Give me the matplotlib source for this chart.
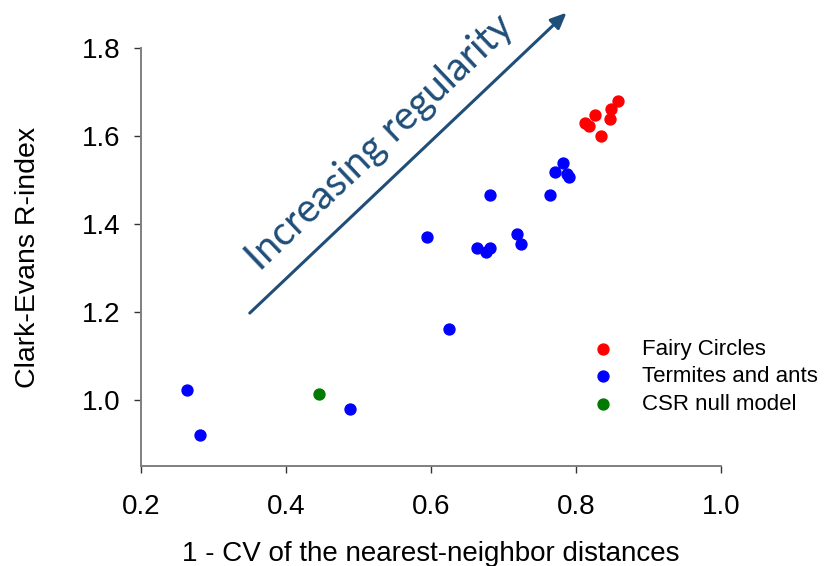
import matplotlib
matplotlib.use("Agg")
import matplotlib.pyplot as plt

# values
fairy_x = [0.812, 0.818, 0.826, 0.834, 0.847, 0.848, 0.858]
fairy_y = [1.630, 1.623, 1.648, 1.601, 1.639, 1.661, 1.680]

termite_x = [0.263, 0.281, 0.488, 0.594, 0.625, 0.663, 0.676, 0.682, 0.682,
             0.718, 0.724, 0.764, 0.771, 0.782, 0.787, 0.790]
termite_y = [1.023, 0.921, 0.981, 1.372, 1.162, 1.345, 1.336, 1.347, 1.467,
             1.377, 1.355, 1.466, 1.518, 1.539, 1.515, 1.508]

csr_x = [0.445]
csr_y = [1.014]

x_ticks = [0.2, 0.4, 0.6, 0.8, 1.0]
y_ticks = [1.0, 1.2, 1.4, 1.6, 1.8]

plt.rcParams['font.family'] = ['Liberation Sans', 'DejaVu Sans']

fig = plt.figure(figsize=(8.27, 5.66), dpi=100)
ax = fig.add_axes([0.1705, 0.1772, 0.7013, 0.7375])

ax.scatter(fairy_x, fairy_y, s=62, color='#ff0000', label='Fairy Circles', zorder=3)
ax.scatter(termite_x, termite_y, s=62, color='#0000ff', label='Termites and ants', zorder=3)
ax.scatter(csr_x, csr_y, s=62, color='#007a00', label='CSR null model', zorder=3)

ax.set_xlim(0.2, 1.0)
ax.set_ylim(0.851, 1.8)
ax.set_xticks(x_ticks)
ax.set_xticklabels(['%.1f' % v for v in x_ticks])
ax.set_yticks(y_ticks)
ax.set_yticklabels(['%.1f' % v for v in y_ticks])

for side in ['top', 'right']:
    ax.spines[side].set_visible(False)
for side in ['left', 'bottom']:
    ax.spines[side].set_color('#7f7f7f')
    ax.spines[side].set_linewidth(1.4)

ax.tick_params(axis='both', direction='out', length=5, width=1, color='#333333',
               labelsize=20)
ax.tick_params(axis='x', pad=15.5)
ax.tick_params(axis='y', pad=10)

ax.set_xlabel('1 - CV of the nearest-neighbor distances', fontsize=20, labelpad=15)
ax.set_ylabel('Clark-Evans R-index', fontsize=20.5, labelpad=29)

# arrow with the label along it
arrow_color = '#1f4e79'
ax.annotate('', xy=(0.787, 1.881), xytext=(0.350, 1.198),
            arrowprops=dict(arrowstyle='-|>,head_length=0.95,head_width=0.42',
                            color=arrow_color, lw=2.2, shrinkA=0, shrinkB=0),
            annotation_clip=False)
ax.text(0.529, 1.585, 'Increasing regularity', fontsize=28.5, color=arrow_color,
        family=['Lato', 'DejaVu Sans'], rotation=43.5, rotation_mode='anchor',
        ha='center', va='center')

ax.legend(loc='center left', bbox_to_anchor=(0.777, 0.213), frameon=False,
          fontsize=16, handlelength=1.0, handletextpad=1.27, labelspacing=0.3,
          borderpad=0, borderaxespad=0, scatterpoints=1)

fig.savefig('out.png', dpi=100)
